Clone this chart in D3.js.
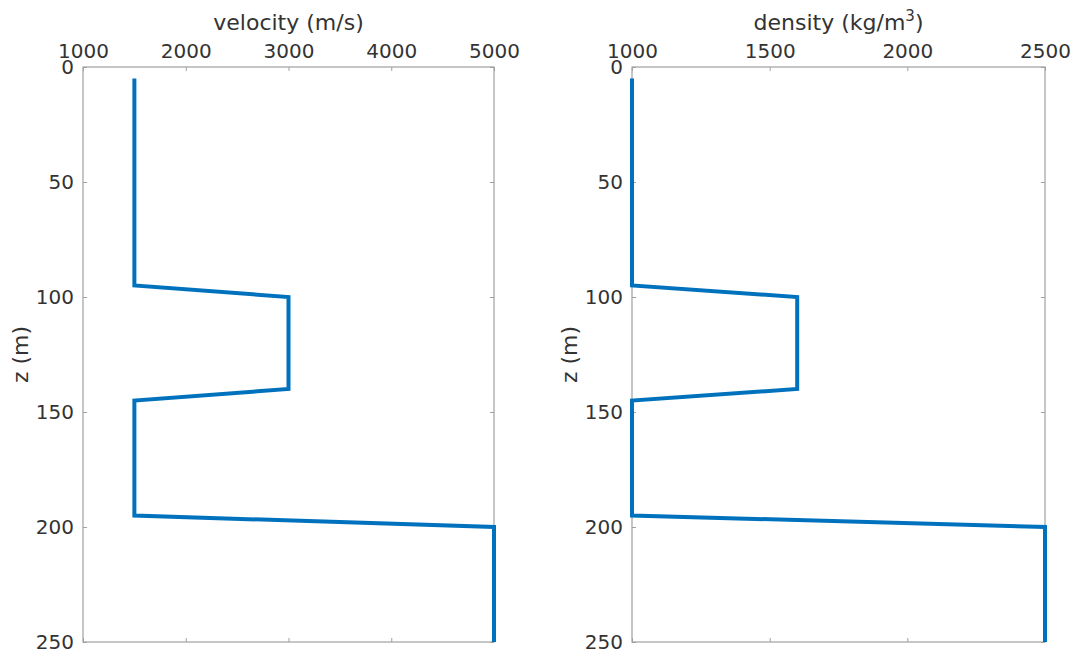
<!DOCTYPE html>
<html>
<head>
<meta charset="utf-8">
<style>
  body { margin: 0; background: #fff; }
  text { font-family: "DejaVu Sans", sans-serif; fill: #333; }
  .frame { fill: none; stroke: #a0a0a0; stroke-width: 1.2; }
  .tick line { stroke: #a0a0a0; }
  .domain { display: none; }
  .profile { fill: none; stroke: #0072bd; stroke-width: 4; stroke-linejoin: miter; }
</style>
</head>
<body>
<svg width="1079" height="661"></svg>
<script src="https://d3js.org/d3.v7.min.js"></script>
<script>
// depth samples (m), shared by both profiles
var depth = [5, 95, 100, 140, 145, 195, 200, 250];
var velocity = [1500, 1500, 3000, 3000, 1500, 1500, 5000, 5000];
var density = [1000, 1000, 1600, 1600, 1000, 1000, 2500, 2500];

var zTicks = [0, 50, 100, 150, 200, 250];
var velTicks = [1000, 2000, 3000, 4000, 5000];
var denTicks = [1000, 1500, 2000, 2500];

var svg = d3.select("svg");
var plotTop = 67, plotBottom = 642;

var panels = [
  { left: 83, right: 494, domain: [1000, 5000], ticks: velTicks, values: velocity, title: "velocity (m/s)" },
  { left: 632, right: 1045, domain: [1000, 2500], ticks: denTicks, values: density, title: "density" }
];

panels.forEach(function(p) {
  var x = d3.scaleLinear().domain(p.domain).range([p.left, p.right]);
  var y = d3.scaleLinear().domain([0, 250]).range([plotTop, plotBottom]);
  var g = svg.append("g");

  g.append("rect").attr("class", "frame")
    .attr("x", p.left).attr("y", plotTop)
    .attr("width", p.right - p.left).attr("height", plotBottom - plotTop);

  // top axis with labels, inward ticks
  g.append("g").attr("transform", "translate(0," + plotTop + ")")
    .call(d3.axisTop(x).tickValues(p.ticks).tickSizeInner(-4).tickSizeOuter(0).tickPadding(9).tickFormat(d3.format("d")))
    .call(function(a) { a.selectAll("text").style("font-size", "20px").attr("fill", "#333"); });
  // bottom ticks only
  g.append("g").attr("transform", "translate(0," + plotBottom + ")")
    .call(d3.axisBottom(x).tickValues(p.ticks).tickSizeInner(-4).tickSizeOuter(0).tickFormat(""));
  // left axis with labels
  g.append("g").attr("transform", "translate(" + p.left + ",0)")
    .call(d3.axisLeft(y).tickValues(zTicks).tickSizeInner(-4).tickSizeOuter(0).tickPadding(9))
    .call(function(a) { a.selectAll("text").style("font-size", "20px").attr("fill", "#333"); });
  // right ticks only
  g.append("g").attr("transform", "translate(" + p.right + ",0)")
    .call(d3.axisRight(y).tickValues(zTicks).tickSizeInner(-4).tickSizeOuter(0).tickFormat(""));

  // titles
  var t = g.append("text")
    .attr("x", (p.left + p.right) / 2).attr("y", 30)
    .attr("text-anchor", "middle").style("font-size", "22px")
    .text(p.title);
  if (p.title == "density") {
    t.append("tspan").text(" (kg/m");
    t.append("tspan").attr("baseline-shift", "super").style("font-size", "15px").text("3");
    t.append("tspan").text(")");
  }

  g.append("text")
    .attr("transform", "translate(" + (p.left - 55) + "," + ((plotTop + plotBottom) / 2) + ") rotate(-90)")
    .attr("text-anchor", "middle").style("font-size", "22px")
    .text("z (m)");

  var line = d3.line()
    .x(function(d, i) { return x(p.values[i]); })
    .y(function(d) { return y(d); });
  g.append("path").attr("class", "profile").attr("d", line(depth));
});
</script>
</body>
</html>
